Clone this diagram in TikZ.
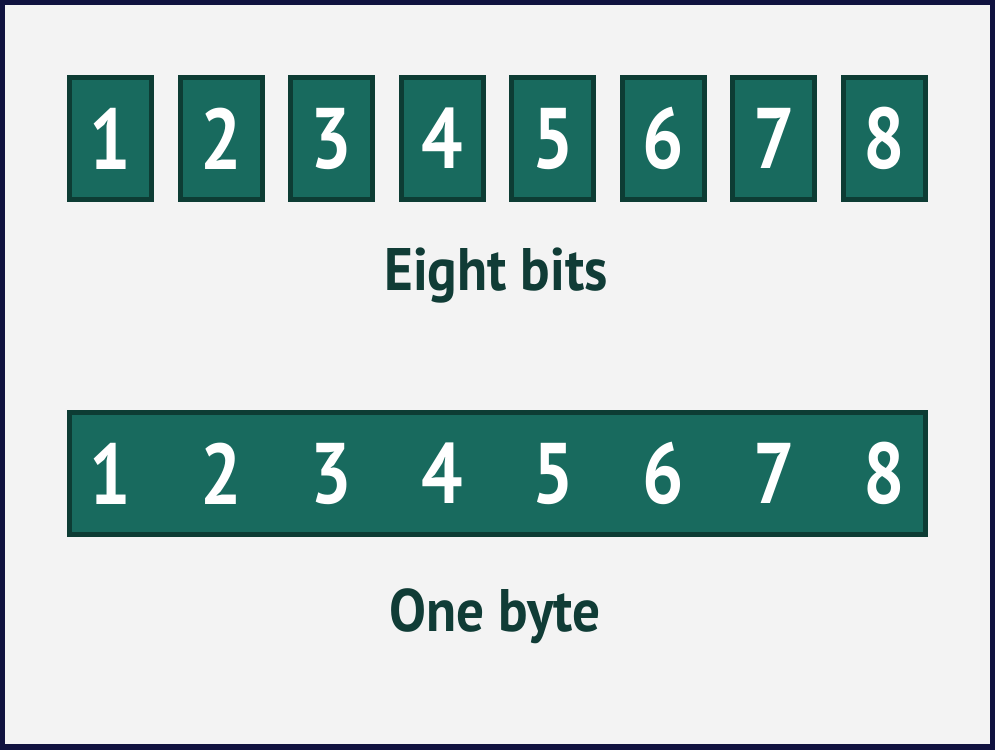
\documentclass[tikz,border=0pt]{standalone}
\usepackage{fontspec}
\usepackage{graphicx}
\setmainfont{PT Sans}
\definecolor{bgc}{HTML}{F3F3F3}
\definecolor{framec}{HTML}{10123F}
\definecolor{boxfill}{HTML}{186A5E}
\definecolor{boxline}{HTML}{0D3C34}
\definecolor{txt}{HTML}{103C36}
\newcommand{\narrow}[1]{\scalebox{0.92}[1]{#1}}
\newcommand{\narrowdigit}[1]{\scalebox{0.85}[1]{#1}}
\tikzset{
  bitbox/.style={draw=boxline, fill=boxfill, line width=5pt, minimum width=82pt, minimum height=122pt, inner sep=0pt},
  digit/.style={text=white, font=\fontsize{86}{86}\selectfont\bfseries, inner sep=0pt},
  caption/.style={text=txt, font=\fontsize{60}{60}\selectfont\bfseries, inner sep=0pt, anchor=base}
}
\begin{document}
\begin{tikzpicture}[x=1pt,y=-1pt]
\useasboundingbox (0,0) rectangle (995,750);
\fill[framec] (0,0) rectangle (995,750);
\fill[bgc] (5,5) rectangle (990,744);
\foreach \i in {1,...,8}{
  \node[bitbox] (b\i) at ({110.5+110.57*(\i-1)},138.5) {};
  \node[digit] (d\i) at (b\i.center) {\narrowdigit{\i}};
}
\node[caption] (eight) at (496,290) {\narrow{Eight bits}};
\node[bitbox, minimum width=856pt] (bar) at (497.5,473.5) {};
\foreach \i in {1,...,8}{
  \node[digit] (e\i) at ({110.5+110.57*(\i-1)},473.5) {\narrowdigit{\i}};
}
\node[caption] (byte) at (495,631) {\narrow{One byte}};
\end{tikzpicture}
\end{document}
